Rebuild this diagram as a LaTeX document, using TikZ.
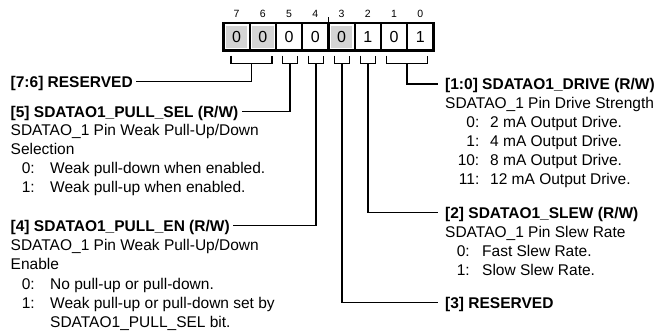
\documentclass[tikz,border=0pt]{standalone}
\usepackage{fontspec}
\setmainfont{Liberation Sans}
\definecolor{cellgray}{HTML}{D4D4D4}
\begin{document}
\begin{tikzpicture}[x=1pt,y=-1pt,
  txt/.style={anchor=base west, inner sep=0pt, font=\fontsize{15.5}{18}\selectfont},
  num/.style={anchor=base east, inner sep=0pt, font=\fontsize{15.5}{18}\selectfont},
  hdl/.style={anchor=base west, inner xsep=3.5pt, inner ysep=0pt, text height=11.2pt, text depth=0pt, font=\fontsize{15.5}{18}\selectfont\bfseries},
  hdr/.style={anchor=base west, inner xsep=7.5pt, inner ysep=0pt, text height=11.2pt, text depth=0pt, font=\fontsize{15.5}{18}\selectfont\bfseries},
  bitno/.style={inner sep=0pt, font=\fontsize{10.5}{12}\selectfont},
  bitval/.style={inner sep=0pt, font=\fontsize{16}{18}\selectfont},
  cellline/.style={line width=2.1pt},
  wire/.style={line width=1.8pt}
]
\useasboundingbox (0,0) rectangle (660,335);

% register cells
\foreach \b/\v/\g in {7/0/1,6/0/1,5/0/0,4/0/0,3/0/1,2/1/0,1/0/0,0/1/0}{
  \pgfmathsetmacro{\xl}{223.5+(7-\b)*26.25}
  \pgfmathsetmacro{\xc}{\xl+13.125}
  \ifnum\g=1
    \fill[cellgray] (\xl+2.5,25.5) rectangle (\xl+26.25-2.5,48);
  \fi
  \node[bitval] (v\b) at (\xc,37) {\v};
  \node[bitno] (n\b) at (\xc,14) {\b};
}
\draw[cellline] (223.5,23) rectangle (433.5,50.5);
\foreach \i in {1,...,7}{
  \draw[cellline] (223.5+\i*26.25,23) -- (223.5+\i*26.25,50.5);
}
\draw[line width=1.3pt] (328.5,17) -- (328.5,23);

% brackets
\draw[wire] (231,55.5) -- (231,63.5) -- (272,63.5) -- (272,55.5);
\coordinate (b76) at (251.5,63.5);
\draw[wire] (282.5,55.5) -- (282.5,63.5) -- (297.5,63.5) -- (297.5,55.5);
\coordinate (b5) at (290,63.5);
\draw[wire] (308.5,55.5) -- (308.5,63.5) -- (323.5,63.5) -- (323.5,55.5);
\coordinate (b4) at (316,63.5);
\draw[wire] (334.5,55.5) -- (334.5,63.5) -- (349.5,63.5) -- (349.5,55.5);
\coordinate (b3) at (342,63.5);
\draw[wire] (360.5,55.5) -- (360.5,63.5) -- (375.5,63.5) -- (375.5,55.5);
\coordinate (b2) at (368,63.5);
\draw[wire] (386.5,55.5) -- (386.5,63.5) -- (427.5,63.5) -- (427.5,55.5);
\coordinate (b10) at (407,63.5);

% left column
\node[hdl] (h76) at (7,87.1) {[7:6] RESERVED};

\node[hdl] (h5) at (7,117.1) {[5] SDATAO1\_PULL\_SEL (R/W)};
\node[txt] (d5a) at (10.5,135.6) {SDATAO\_1 Pin Weak Pull-Up/Down};
\node[txt] (d5b) at (10.5,154.6) {Selection};
\node[num] (n5a) at (35,173.6) {0:};
\node[txt] (t5a) at (50,173.6) {Weak pull-down when enabled.};
\node[num] (n5b) at (35,192.6) {1:};
\node[txt] (t5b) at (50,192.6) {Weak pull-up when enabled.};

\node[hdl] (h4) at (7,231.1) {[4] SDATAO1\_PULL\_EN (R/W)};
\node[txt] (d4a) at (10.5,250.6) {SDATAO\_1 Pin Weak Pull-Up/Down};
\node[txt] (d4b) at (10.5,269.6) {Enable};
\node[num] (n4a) at (35,289.6) {0:};
\node[txt] (t4a) at (50,289.6) {No pull-up or pull-down.};
\node[num] (n4b) at (35,308.6) {1:};
\node[txt] (t4b) at (50,308.6) {Weak pull-up or pull-down set by};
\node[txt] (t4c) at (50,327.6) {SDATAO1\_PULL\_SEL bit.};

% right column
\node[hdr] (h10) at (437.5,89.6) {[1:0] SDATAO1\_DRIVE (R/W)};
\node[txt] (d10) at (445,108.6) {SDATAO\_1 Pin Drive Strength};
\node[num] (n10a) at (479.5,127.6) {0:};
\node[txt] (t10a) at (490,127.6) {2 mA Output Drive.};
\node[num] (n10b) at (479.5,146.6) {1:};
\node[txt] (t10b) at (490,146.6) {4 mA Output Drive.};
\node[num] (n10c) at (479.5,165.6) {10:};
\node[txt] (t10c) at (490,165.6) {8 mA Output Drive.};
\node[num] (n10d) at (479.5,184.6) {11:};
\node[txt] (t10d) at (490,184.6) {12 mA Output Drive.};

\node[hdr] (h2) at (437.5,218.1) {[2] SDATAO1\_SLEW (R/W)};
\node[txt] (d2) at (445,237.1) {SDATAO\_1 Pin Slew Rate};
\node[num] (n2a) at (470,256.6) {0:};
\node[txt] (t2a) at (482,256.6) {Fast Slew Rate.};
\node[num] (n2b) at (470,275.6) {1:};
\node[txt] (t2b) at (482,275.6) {Slow Slew Rate.};

\node[hdr] (h3) at (437.5,308.1) {[3] RESERVED};

% connectors
\draw[wire] (b76) |- (h76.east);
\draw[wire] (b5) |- (h5.east);
\draw[wire] (b4) |- (h4.east);
\draw[wire] (b10) |- (h10.west);
\draw[wire] (b2) |- (h2.west);
\draw[wire] (b3) |- (h3.west);
\end{tikzpicture}
\end{document}
